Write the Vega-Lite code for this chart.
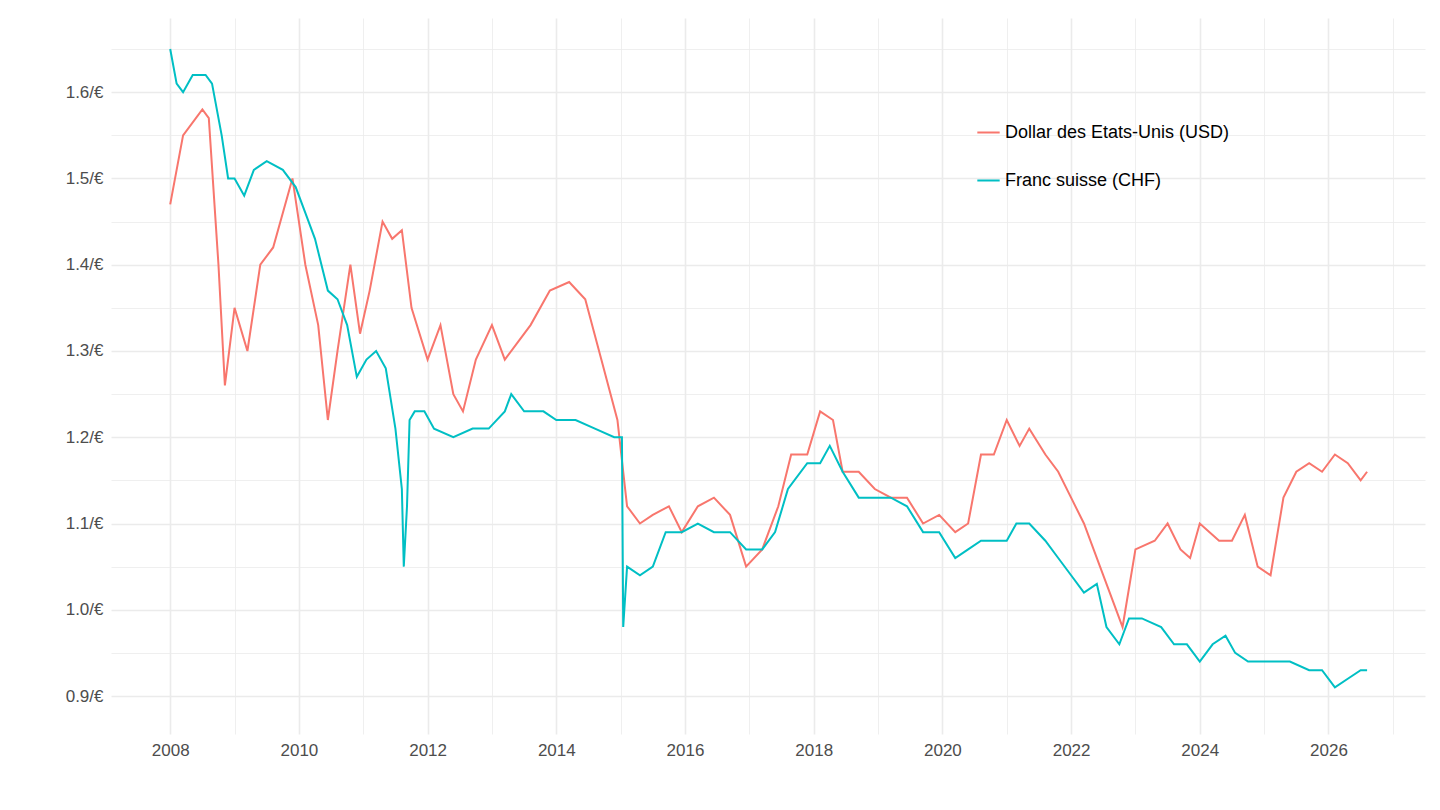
{
  "$schema": "https://vega.github.io/schema/vega-lite/v6.json",
  "width": 1440,
  "height": 810,
  "autosize": {"type": "fit", "contains": "padding"},
  "padding": {"left": 65, "right": 15, "top": 18, "bottom": 52},
  "config": {
    "view": {"stroke": null},
    "font": "Liberation Sans",
    "axis": {"domain": false, "ticks": false, "labelFontSize": 17, "labelColor": "#4d4d4d", "gridColor": "#ebebeb", "title": null, "labelPadding": 8}
  },
  "data": {"values": [
    {"t":2008.0,"v":1.47,"s":"Dollar des Etats-Unis (USD)"},{"t":2008.2,"v":1.55,"s":"Dollar des Etats-Unis (USD)"},{"t":2008.5,"v":1.58,"s":"Dollar des Etats-Unis (USD)"},{"t":2008.6,"v":1.57,"s":"Dollar des Etats-Unis (USD)"},{"t":2008.75,"v":1.40,"s":"Dollar des Etats-Unis (USD)"},{"t":2008.85,"v":1.26,"s":"Dollar des Etats-Unis (USD)"},{"t":2009.0,"v":1.35,"s":"Dollar des Etats-Unis (USD)"},{"t":2009.2,"v":1.30,"s":"Dollar des Etats-Unis (USD)"},{"t":2009.4,"v":1.40,"s":"Dollar des Etats-Unis (USD)"},{"t":2009.6,"v":1.42,"s":"Dollar des Etats-Unis (USD)"},{"t":2009.9,"v":1.50,"s":"Dollar des Etats-Unis (USD)"},{"t":2010.1,"v":1.40,"s":"Dollar des Etats-Unis (USD)"},{"t":2010.3,"v":1.33,"s":"Dollar des Etats-Unis (USD)"},{"t":2010.45,"v":1.22,"s":"Dollar des Etats-Unis (USD)"},{"t":2010.6,"v":1.30,"s":"Dollar des Etats-Unis (USD)"},{"t":2010.8,"v":1.40,"s":"Dollar des Etats-Unis (USD)"},{"t":2010.95,"v":1.32,"s":"Dollar des Etats-Unis (USD)"},{"t":2011.1,"v":1.37,"s":"Dollar des Etats-Unis (USD)"},{"t":2011.3,"v":1.45,"s":"Dollar des Etats-Unis (USD)"},{"t":2011.45,"v":1.43,"s":"Dollar des Etats-Unis (USD)"},{"t":2011.6,"v":1.44,"s":"Dollar des Etats-Unis (USD)"},{"t":2011.75,"v":1.35,"s":"Dollar des Etats-Unis (USD)"},{"t":2012.0,"v":1.29,"s":"Dollar des Etats-Unis (USD)"},{"t":2012.2,"v":1.33,"s":"Dollar des Etats-Unis (USD)"},{"t":2012.4,"v":1.25,"s":"Dollar des Etats-Unis (USD)"},{"t":2012.55,"v":1.23,"s":"Dollar des Etats-Unis (USD)"},{"t":2012.75,"v":1.29,"s":"Dollar des Etats-Unis (USD)"},{"t":2013.0,"v":1.33,"s":"Dollar des Etats-Unis (USD)"},{"t":2013.2,"v":1.29,"s":"Dollar des Etats-Unis (USD)"},{"t":2013.4,"v":1.31,"s":"Dollar des Etats-Unis (USD)"},{"t":2013.6,"v":1.33,"s":"Dollar des Etats-Unis (USD)"},{"t":2013.9,"v":1.37,"s":"Dollar des Etats-Unis (USD)"},{"t":2014.2,"v":1.38,"s":"Dollar des Etats-Unis (USD)"},{"t":2014.45,"v":1.36,"s":"Dollar des Etats-Unis (USD)"},{"t":2014.7,"v":1.29,"s":"Dollar des Etats-Unis (USD)"},{"t":2014.95,"v":1.22,"s":"Dollar des Etats-Unis (USD)"},{"t":2015.1,"v":1.12,"s":"Dollar des Etats-Unis (USD)"},{"t":2015.3,"v":1.10,"s":"Dollar des Etats-Unis (USD)"},{"t":2015.5,"v":1.11,"s":"Dollar des Etats-Unis (USD)"},{"t":2015.75,"v":1.12,"s":"Dollar des Etats-Unis (USD)"},{"t":2015.95,"v":1.09,"s":"Dollar des Etats-Unis (USD)"},{"t":2016.2,"v":1.12,"s":"Dollar des Etats-Unis (USD)"},{"t":2016.45,"v":1.13,"s":"Dollar des Etats-Unis (USD)"},{"t":2016.7,"v":1.11,"s":"Dollar des Etats-Unis (USD)"},{"t":2016.95,"v":1.05,"s":"Dollar des Etats-Unis (USD)"},{"t":2017.2,"v":1.07,"s":"Dollar des Etats-Unis (USD)"},{"t":2017.45,"v":1.12,"s":"Dollar des Etats-Unis (USD)"},{"t":2017.65,"v":1.18,"s":"Dollar des Etats-Unis (USD)"},{"t":2017.9,"v":1.18,"s":"Dollar des Etats-Unis (USD)"},{"t":2018.1,"v":1.23,"s":"Dollar des Etats-Unis (USD)"},{"t":2018.3,"v":1.22,"s":"Dollar des Etats-Unis (USD)"},{"t":2018.45,"v":1.16,"s":"Dollar des Etats-Unis (USD)"},{"t":2018.7,"v":1.16,"s":"Dollar des Etats-Unis (USD)"},{"t":2018.95,"v":1.14,"s":"Dollar des Etats-Unis (USD)"},{"t":2019.2,"v":1.13,"s":"Dollar des Etats-Unis (USD)"},{"t":2019.45,"v":1.13,"s":"Dollar des Etats-Unis (USD)"},{"t":2019.7,"v":1.10,"s":"Dollar des Etats-Unis (USD)"},{"t":2019.95,"v":1.11,"s":"Dollar des Etats-Unis (USD)"},{"t":2020.2,"v":1.09,"s":"Dollar des Etats-Unis (USD)"},{"t":2020.4,"v":1.10,"s":"Dollar des Etats-Unis (USD)"},{"t":2020.6,"v":1.18,"s":"Dollar des Etats-Unis (USD)"},{"t":2020.8,"v":1.18,"s":"Dollar des Etats-Unis (USD)"},{"t":2021.0,"v":1.22,"s":"Dollar des Etats-Unis (USD)"},{"t":2021.2,"v":1.19,"s":"Dollar des Etats-Unis (USD)"},{"t":2021.35,"v":1.21,"s":"Dollar des Etats-Unis (USD)"},{"t":2021.6,"v":1.18,"s":"Dollar des Etats-Unis (USD)"},{"t":2021.8,"v":1.16,"s":"Dollar des Etats-Unis (USD)"},{"t":2022.0,"v":1.13,"s":"Dollar des Etats-Unis (USD)"},{"t":2022.2,"v":1.10,"s":"Dollar des Etats-Unis (USD)"},{"t":2022.45,"v":1.05,"s":"Dollar des Etats-Unis (USD)"},{"t":2022.65,"v":1.01,"s":"Dollar des Etats-Unis (USD)"},{"t":2022.8,"v":0.98,"s":"Dollar des Etats-Unis (USD)"},{"t":2023.0,"v":1.07,"s":"Dollar des Etats-Unis (USD)"},{"t":2023.3,"v":1.08,"s":"Dollar des Etats-Unis (USD)"},{"t":2023.5,"v":1.10,"s":"Dollar des Etats-Unis (USD)"},{"t":2023.7,"v":1.07,"s":"Dollar des Etats-Unis (USD)"},{"t":2023.85,"v":1.06,"s":"Dollar des Etats-Unis (USD)"},{"t":2024.0,"v":1.10,"s":"Dollar des Etats-Unis (USD)"},{"t":2024.3,"v":1.08,"s":"Dollar des Etats-Unis (USD)"},{"t":2024.5,"v":1.08,"s":"Dollar des Etats-Unis (USD)"},{"t":2024.7,"v":1.11,"s":"Dollar des Etats-Unis (USD)"},{"t":2024.9,"v":1.05,"s":"Dollar des Etats-Unis (USD)"},{"t":2025.1,"v":1.04,"s":"Dollar des Etats-Unis (USD)"},{"t":2025.3,"v":1.13,"s":"Dollar des Etats-Unis (USD)"},{"t":2025.5,"v":1.16,"s":"Dollar des Etats-Unis (USD)"},{"t":2025.7,"v":1.17,"s":"Dollar des Etats-Unis (USD)"},{"t":2025.9,"v":1.16,"s":"Dollar des Etats-Unis (USD)"},{"t":2026.1,"v":1.18,"s":"Dollar des Etats-Unis (USD)"},{"t":2026.3,"v":1.17,"s":"Dollar des Etats-Unis (USD)"},{"t":2026.5,"v":1.15,"s":"Dollar des Etats-Unis (USD)"},{"t":2026.6,"v":1.16,"s":"Dollar des Etats-Unis (USD)"},
    {"t":2008.0,"v":1.65,"s":"Franc suisse (CHF)"},{"t":2008.1,"v":1.61,"s":"Franc suisse (CHF)"},{"t":2008.2,"v":1.60,"s":"Franc suisse (CHF)"},{"t":2008.35,"v":1.62,"s":"Franc suisse (CHF)"},{"t":2008.55,"v":1.62,"s":"Franc suisse (CHF)"},{"t":2008.65,"v":1.61,"s":"Franc suisse (CHF)"},{"t":2008.8,"v":1.55,"s":"Franc suisse (CHF)"},{"t":2008.9,"v":1.50,"s":"Franc suisse (CHF)"},{"t":2009.0,"v":1.50,"s":"Franc suisse (CHF)"},{"t":2009.15,"v":1.48,"s":"Franc suisse (CHF)"},{"t":2009.3,"v":1.51,"s":"Franc suisse (CHF)"},{"t":2009.5,"v":1.52,"s":"Franc suisse (CHF)"},{"t":2009.75,"v":1.51,"s":"Franc suisse (CHF)"},{"t":2009.95,"v":1.49,"s":"Franc suisse (CHF)"},{"t":2010.1,"v":1.46,"s":"Franc suisse (CHF)"},{"t":2010.25,"v":1.43,"s":"Franc suisse (CHF)"},{"t":2010.45,"v":1.37,"s":"Franc suisse (CHF)"},{"t":2010.6,"v":1.36,"s":"Franc suisse (CHF)"},{"t":2010.75,"v":1.33,"s":"Franc suisse (CHF)"},{"t":2010.9,"v":1.27,"s":"Franc suisse (CHF)"},{"t":2011.05,"v":1.29,"s":"Franc suisse (CHF)"},{"t":2011.2,"v":1.30,"s":"Franc suisse (CHF)"},{"t":2011.35,"v":1.28,"s":"Franc suisse (CHF)"},{"t":2011.5,"v":1.21,"s":"Franc suisse (CHF)"},{"t":2011.6,"v":1.14,"s":"Franc suisse (CHF)"},{"t":2011.63,"v":1.05,"s":"Franc suisse (CHF)"},{"t":2011.68,"v":1.12,"s":"Franc suisse (CHF)"},{"t":2011.72,"v":1.22,"s":"Franc suisse (CHF)"},{"t":2011.8,"v":1.23,"s":"Franc suisse (CHF)"},{"t":2011.95,"v":1.23,"s":"Franc suisse (CHF)"},{"t":2012.1,"v":1.21,"s":"Franc suisse (CHF)"},{"t":2012.4,"v":1.20,"s":"Franc suisse (CHF)"},{"t":2012.7,"v":1.21,"s":"Franc suisse (CHF)"},{"t":2012.95,"v":1.21,"s":"Franc suisse (CHF)"},{"t":2013.2,"v":1.23,"s":"Franc suisse (CHF)"},{"t":2013.3,"v":1.25,"s":"Franc suisse (CHF)"},{"t":2013.5,"v":1.23,"s":"Franc suisse (CHF)"},{"t":2013.8,"v":1.23,"s":"Franc suisse (CHF)"},{"t":2014.0,"v":1.22,"s":"Franc suisse (CHF)"},{"t":2014.3,"v":1.22,"s":"Franc suisse (CHF)"},{"t":2014.6,"v":1.21,"s":"Franc suisse (CHF)"},{"t":2014.9,"v":1.20,"s":"Franc suisse (CHF)"},{"t":2015.02,"v":1.20,"s":"Franc suisse (CHF)"},{"t":2015.04,"v":0.98,"s":"Franc suisse (CHF)"},{"t":2015.1,"v":1.05,"s":"Franc suisse (CHF)"},{"t":2015.3,"v":1.04,"s":"Franc suisse (CHF)"},{"t":2015.5,"v":1.05,"s":"Franc suisse (CHF)"},{"t":2015.7,"v":1.09,"s":"Franc suisse (CHF)"},{"t":2015.95,"v":1.09,"s":"Franc suisse (CHF)"},{"t":2016.2,"v":1.10,"s":"Franc suisse (CHF)"},{"t":2016.45,"v":1.09,"s":"Franc suisse (CHF)"},{"t":2016.7,"v":1.09,"s":"Franc suisse (CHF)"},{"t":2016.95,"v":1.07,"s":"Franc suisse (CHF)"},{"t":2017.2,"v":1.07,"s":"Franc suisse (CHF)"},{"t":2017.4,"v":1.09,"s":"Franc suisse (CHF)"},{"t":2017.6,"v":1.14,"s":"Franc suisse (CHF)"},{"t":2017.9,"v":1.17,"s":"Franc suisse (CHF)"},{"t":2018.1,"v":1.17,"s":"Franc suisse (CHF)"},{"t":2018.25,"v":1.19,"s":"Franc suisse (CHF)"},{"t":2018.45,"v":1.16,"s":"Franc suisse (CHF)"},{"t":2018.7,"v":1.13,"s":"Franc suisse (CHF)"},{"t":2018.95,"v":1.13,"s":"Franc suisse (CHF)"},{"t":2019.2,"v":1.13,"s":"Franc suisse (CHF)"},{"t":2019.45,"v":1.12,"s":"Franc suisse (CHF)"},{"t":2019.7,"v":1.09,"s":"Franc suisse (CHF)"},{"t":2019.95,"v":1.09,"s":"Franc suisse (CHF)"},{"t":2020.2,"v":1.06,"s":"Franc suisse (CHF)"},{"t":2020.4,"v":1.07,"s":"Franc suisse (CHF)"},{"t":2020.6,"v":1.08,"s":"Franc suisse (CHF)"},{"t":2020.8,"v":1.08,"s":"Franc suisse (CHF)"},{"t":2021.0,"v":1.08,"s":"Franc suisse (CHF)"},{"t":2021.15,"v":1.10,"s":"Franc suisse (CHF)"},{"t":2021.35,"v":1.10,"s":"Franc suisse (CHF)"},{"t":2021.6,"v":1.08,"s":"Franc suisse (CHF)"},{"t":2021.8,"v":1.06,"s":"Franc suisse (CHF)"},{"t":2022.0,"v":1.04,"s":"Franc suisse (CHF)"},{"t":2022.2,"v":1.02,"s":"Franc suisse (CHF)"},{"t":2022.4,"v":1.03,"s":"Franc suisse (CHF)"},{"t":2022.55,"v":0.98,"s":"Franc suisse (CHF)"},{"t":2022.75,"v":0.96,"s":"Franc suisse (CHF)"},{"t":2022.9,"v":0.99,"s":"Franc suisse (CHF)"},{"t":2023.1,"v":0.99,"s":"Franc suisse (CHF)"},{"t":2023.4,"v":0.98,"s":"Franc suisse (CHF)"},{"t":2023.6,"v":0.96,"s":"Franc suisse (CHF)"},{"t":2023.8,"v":0.96,"s":"Franc suisse (CHF)"},{"t":2024.0,"v":0.94,"s":"Franc suisse (CHF)"},{"t":2024.2,"v":0.96,"s":"Franc suisse (CHF)"},{"t":2024.4,"v":0.97,"s":"Franc suisse (CHF)"},{"t":2024.55,"v":0.95,"s":"Franc suisse (CHF)"},{"t":2024.75,"v":0.94,"s":"Franc suisse (CHF)"},{"t":2025.0,"v":0.94,"s":"Franc suisse (CHF)"},{"t":2025.2,"v":0.94,"s":"Franc suisse (CHF)"},{"t":2025.4,"v":0.94,"s":"Franc suisse (CHF)"},{"t":2025.7,"v":0.93,"s":"Franc suisse (CHF)"},{"t":2025.9,"v":0.93,"s":"Franc suisse (CHF)"},{"t":2026.1,"v":0.91,"s":"Franc suisse (CHF)"},{"t":2026.3,"v":0.92,"s":"Franc suisse (CHF)"},{"t":2026.5,"v":0.93,"s":"Franc suisse (CHF)"},{"t":2026.6,"v":0.93,"s":"Franc suisse (CHF)"}
  ]},
  "mark": {"type": "line", "strokeWidth": 2},
  "encoding": {
    "x": {"field": "t", "type": "quantitative",
      "scale": {"domain": [2007.08, 2027.5], "nice": false, "zero": false},
      "axis": {"values": [2008,2009,2010,2011,2012,2013,2014,2015,2016,2017,2018,2019,2020,2021,2022,2023,2024,2025,2026,2027],
        "labelExpr": "datum.value % 2 == 0 ? format(datum.value, 'd') : ''",
        "gridWidth": {"condition": {"test": "datum.value % 2 == 0", "value": 1.6}, "value": 0.8}}},
    "y": {"field": "v", "type": "quantitative",
      "scale": {"domain": [0.856, 1.686], "nice": false, "zero": false},
      "axis": {"values": [0.85,0.9,0.95,1.0,1.05,1.1,1.15,1.2,1.25,1.3,1.35,1.4,1.45,1.5,1.55,1.6,1.65],
        "labelExpr": "round(datum.value * 100) % 10 == 0 ? format(datum.value, '.1f') + '/€' : ''",
        "gridWidth": {"condition": {"test": "round(datum.value * 100) % 10 == 0", "value": 1.6}, "value": 0.8}}},
    "color": {"field": "s", "type": "nominal",
      "scale": {"range": ["#F8766D", "#00BFC4"]},
      "legend": {"title": null, "orient": "none", "legendX": 865, "legendY": 102, "labelFontSize": 18, "labelLimit": 0, "labelColor": "#000000", "symbolType": "stroke", "symbolSize": 500, "symbolStrokeWidth": 2, "rowPadding": 26}}
  }
}
